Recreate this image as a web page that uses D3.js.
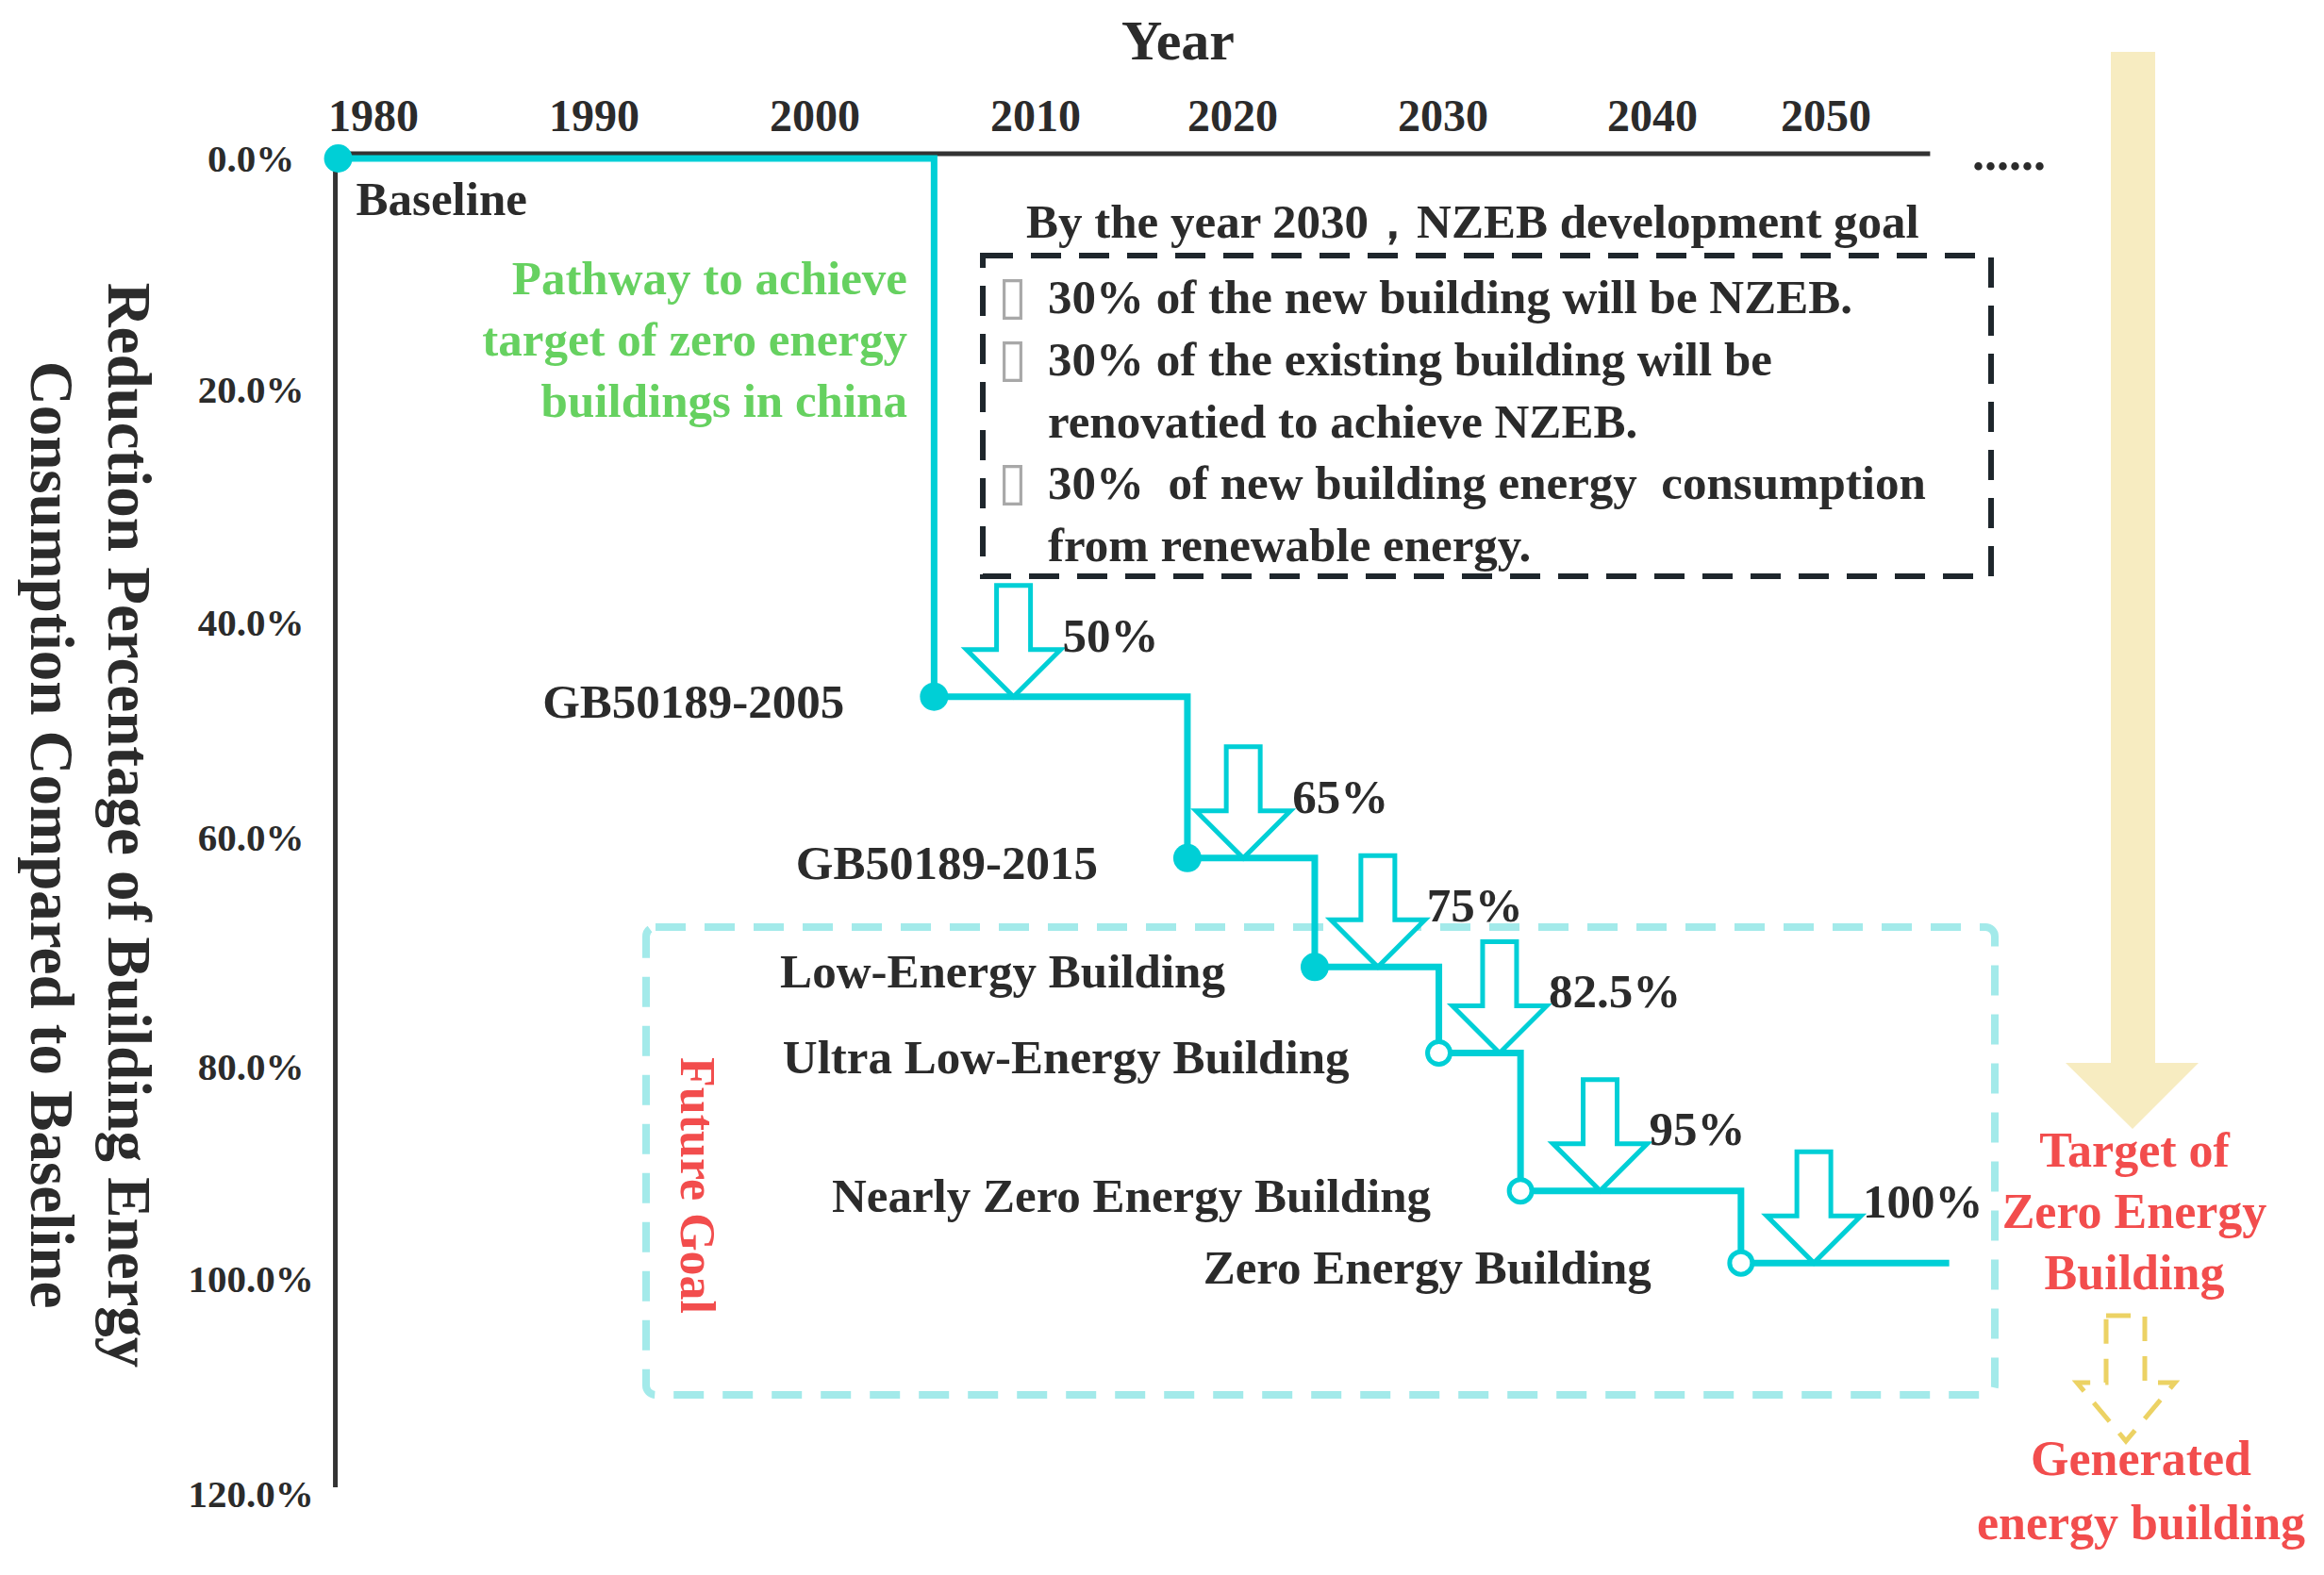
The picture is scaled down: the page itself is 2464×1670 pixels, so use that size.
<!DOCTYPE html>
<html lang="en">
<head>
<meta charset="UTF-8">
<title>Pathway to zero energy buildings in China</title>
<script src="https://d3js.org/d3.v7.min.js"></script>
<style>
    body { margin: 0; background: #fff; }
    svg {
        display: block;
        font-family: "Liberation Serif", "Times New Roman", serif;
        font-weight: bold;
    }
</style>
</head>
<body>
<svg id="chart"></svg>
<script>
    // axis ticks
    const yearTicks = [1980, 1990, 2000, 2010, 2020, 2030, 2040, 2050];
    const percentTicks = [0, 20, 40, 60, 80, 100, 120];
    const axisYears = [1978.4, 2056];

    // pathway: start year of each stage and its reduction level (%)
    const stepYears = [1978.4, 2005.4, 2017.7, 2023.9, 2029.8, 2033.7, 2045.1];
    const stepLevels = [0, 46.9, 61.8, 71.3, 78.8, 91.7, 98.5];
    const pathwayEnd = 2057.1;
    const stepNames = ["Baseline", "GB50189-2005", "GB50189-2015", "Low-Energy Building",
        "Ultra Low-Energy Building", "Nearly Zero Energy Building", "Zero Energy Building"];
    const stepFuture = [false, false, false, false, true, true, true];

    // saving arrows
    const arrowYears = [2009.0, 2020.5, 2026.9, 2032.7, 2037.5, 2049.3];
    const arrowLabels = ["50%", "65%", "75%", "82.5%", "95%", "100%"];

    const goalTitle = "By the year 2030，NZEB development goal";
    const goalLines = ["30% of the new building will be NZEB.", "30% of the existing building will be",
        "renovatied to achieve NZEB.", "30%  of new building energy  consumption", "from renewable energy."];
    const goalBullets = [true, true, false, true, false];

    const pathwayNote = ["Pathway to achieve", "target of zero energy", "buildings in china"];
    const targetNote = ["Target of", "Zero Energy", "Building"];
    const generatedNote = ["Generated", "energy building"];
    const yTitle = ["Reduction Percentage of Building Energy", "Consumption Compared to Baseline"];

    const width = 2464, height = 1670;
    const cyan = "#00cfd6", ink = "#2b2b2b", red = "#f24d4d";

    const svg = d3.select("#chart")
        .attr("width", width).attr("height", height)
        .attr("viewBox", [0, 0, width, height]);

    // hand drawn figure: tick labels are not evenly spaced, so polylinear scales
    const x = d3.scaleLinear().domain(yearTicks)
        .range([396, 630, 864, 1098, 1307, 1530, 1752, 1936]);
    const y = d3.scaleLinear().domain(percentTicks)
        .range([168, 413, 660, 888, 1131, 1356, 1584]);

    // ---- axes
    svg.append("text")
        .attr("x", 1249).attr("y", 63)
        .attr("text-anchor", "middle")
        .attr("font-size", 60).attr("fill", ink)
        .text("Year");

    svg.append("g").selectAll("text")
        .data(yearTicks).join("text")
        .attr("x", d => x(d)).attr("y", 139)
        .attr("text-anchor", "middle")
        .attr("font-size", 48).attr("fill", ink)
        .text(d => d);

    svg.append("line")
        .attr("x1", x(axisYears[0]) - 3).attr("x2", x(axisYears[1]))
        .attr("y1", y(0) - 5).attr("y2", y(0) - 5)
        .attr("stroke", "#333").attr("stroke-width", 5);

    svg.append("text")
        .attr("x", 2091).attr("y", 180)
        .attr("font-size", 52).attr("fill", ink)
        .text("......");

    svg.append("line")
        .attr("x1", x(axisYears[0]) - 3).attr("x2", x(axisYears[0]) - 3)
        .attr("y1", y(0) - 7).attr("y2", y(120) - 7)
        .attr("stroke", "#333").attr("stroke-width", 5);

    svg.append("g").selectAll("text")
        .data(percentTicks).join("text")
        .attr("x", 266).attr("y", d => y(d))
        .attr("dy", "0.35em")
        .attr("text-anchor", "middle")
        .attr("font-size", 41).attr("fill", ink)
        .text(d => d.toFixed(1) + "%");

    const yt = svg.append("g").attr("fill", ink).attr("font-size", 65);
    yt.append("text")
        .attr("transform", "translate(115,875) rotate(90)")
        .attr("text-anchor", "middle")
        .text(yTitle[0]);
    yt.append("text")
        .attr("transform", "translate(33,885) rotate(90)")
        .attr("text-anchor", "middle")
        .text(yTitle[1]);

    // ---- NZEB goal box
    svg.append("text")
        .attr("x", 1088).attr("y", 252)
        .attr("font-size", 51).attr("fill", ink)
        .text(goalTitle);

    svg.append("rect")
        .attr("x", 1042).attr("y", 271)
        .attr("width", 1069).attr("height", 340)
        .attr("fill", "none")
        .attr("stroke", "#1e262c").attr("stroke-width", 6)
        .attr("stroke-dasharray", "32,19");

    const goal = svg.append("g").selectAll("g")
        .data(goalLines).join("g")
        .attr("transform", (d, i) => `translate(0,${332 + i * 65.8})`);
    goal.filter((d, i) => goalBullets[i]).append("text")
        .attr("x", 1058).attr("y", 0)
        .attr("font-family", "DejaVu Sans").attr("font-weight", "normal")
        .attr("font-size", 56).attr("fill", "#a8a8a8")
        .text("\u25AF");
    goal.append("text")
        .attr("x", 1111)
        .style("white-space", "pre")
        .attr("font-size", 51).attr("fill", ink)
        .text(d => d);

    // ---- future goal box
    svg.append("rect")
        .attr("x", 685).attr("y", 983)
        .attr("width", 1430).attr("height", 496)
        .attr("rx", 10)
        .attr("fill", "none")
        .attr("stroke", "#a3eaea").attr("stroke-width", 8)
        .attr("stroke-dasharray", "32,20");

    svg.append("text")
        .attr("transform", "translate(722,1257) rotate(90)")
        .attr("text-anchor", "middle")
        .attr("font-size", 52).attr("fill", red)
        .text("Future Goal");

    // ---- pathway note
    svg.append("g").selectAll("text")
        .data(pathwayNote).join("text")
        .attr("x", 962).attr("y", (d, i) => 312 + i * 65)
        .attr("text-anchor", "end")
        .attr("font-size", 51).attr("fill", "#66d160")
        .text(d => d);

    // ---- step line
    const pts = stepYears.map((d, i) => [d, stepLevels[i]]);
    pts.push([pathwayEnd, stepLevels[stepLevels.length - 1]]);

    const line = d3.line()
        .x(d => x(d[0])).y(d => y(d[1]))
        .curve(d3.curveStepAfter);

    // arrows first so the line sits over their tips
    const arrowPath = (cx, tip) => {
        const L = 118, hh = 50, sw = 18, hw = 50;
        return `M${cx - sw},${tip - L}H${cx + sw}V${tip - hh}H${cx + hw}L${cx},${tip}` +
            `L${cx - hw},${tip - hh}H${cx - sw}Z`;
    };

    svg.append("g").selectAll("path")
        .data(arrowYears).join("path")
        .attr("d", (d, i) => arrowPath(x(d), y(stepLevels[i + 1])))
        .attr("fill", "#fff")
        .attr("stroke", cyan).attr("stroke-width", 5)
        .attr("stroke-linejoin", "miter");

    svg.append("g").selectAll("text")
        .data(arrowLabels).join("text")
        .attr("x", (d, i) => x(arrowYears[i]) + 52)
        .attr("y", (d, i) => y(stepLevels[i + 1]) - 66)
        .attr("dy", "0.35em")
        .attr("font-size", 51).attr("fill", ink)
        .text(d => d);

    svg.append("path")
        .attr("d", line(pts))
        .attr("fill", "none")
        .attr("stroke", cyan).attr("stroke-width", 7);

    svg.append("g").selectAll("circle")
        .data(stepYears).join("circle")
        .attr("cx", d => x(d))
        .attr("cy", (d, i) => y(stepLevels[i]))
        .attr("r", (d, i) => stepFuture[i] ? 12 : 15)
        .attr("fill", (d, i) => stepFuture[i] ? "#fff" : cyan)
        .attr("stroke", cyan)
        .attr("stroke-width", (d, i) => stepFuture[i] ? 5 : 0);

    // stage names
    svg.append("g").selectAll("text")
        .data(stepNames).join("text")
        .attr("x", (d, i) => i === 0 ? x(stepYears[i]) + 19 : x(stepYears[i]) - 95)
        .attr("y", (d, i) => i === 0 ? y(0) + 60 : y(stepLevels[i]) + 22)
        .attr("text-anchor", (d, i) => i === 0 ? "start" : "end")
        .attr("font-size", 51).attr("fill", ink)
        .text(d => d);

    // ---- target arrows on the right
    svg.append("path")
        .attr("d", "M2238,55H2285V1127H2331L2261,1197L2190,1127H2238Z")
        .attr("fill", "#f7ecc1");

    svg.append("g").selectAll("text")
        .data(targetNote).join("text")
        .attr("x", 2263).attr("y", (d, i) => 1237 + i * 65)
        .attr("text-anchor", "middle")
        .attr("font-size", 52).attr("fill", red)
        .text(d => d);

    svg.append("path")
        .attr("d", "M2233,1395H2274V1466H2306L2254,1528L2202,1466H2233Z")
        .attr("fill", "none")
        .attr("stroke", "#ecd264").attr("stroke-width", 5)
        .attr("stroke-dasharray", "26,16");

    svg.append("g").selectAll("text")
        .data(generatedNote).join("text")
        .attr("x", 2270).attr("y", (d, i) => 1564 + i * 68)
        .attr("text-anchor", "middle")
        .attr("font-size", 52).attr("fill", red)
        .text(d => d);
</script>
</body>
</html>
